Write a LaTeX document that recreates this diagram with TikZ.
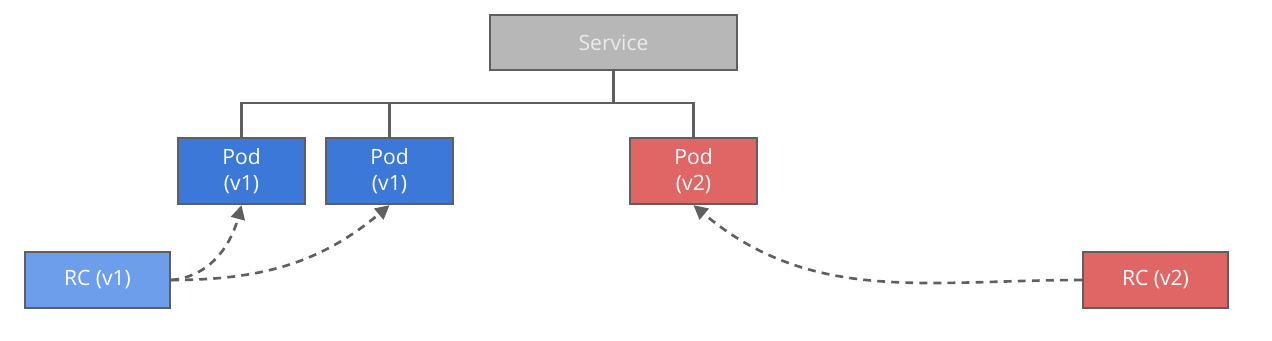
\documentclass[tikz,border=0pt]{standalone}
\usepackage{fontspec}
\setmainfont{Open Sans}
\usetikzlibrary{arrows.meta,positioning}
\definecolor{ink}{HTML}{5F5F5F}
\definecolor{svcgrey}{HTML}{B7B7B7}
\definecolor{podblue}{HTML}{3C78D8}
\definecolor{rcblue}{HTML}{6D9EEB}
\definecolor{v2red}{HTML}{E06666}
\tikzset{
  >={Triangle[length=8pt,width=8pt]},
  every node/.style={font=\fontsize{12}{14.5}\selectfont,text=white},
  box/.style={draw=ink,line width=1.3pt,fill=svcgrey,align=center,inner sep=2pt},
  svcbox/.style={box,minimum width=49.4mm,minimum height=11mm,text=white!92!black},
  podbox/.style={box,fill=podblue,minimum width=25.4mm,minimum height=13.2mm},
  podtwobox/.style={podbox,fill=v2red},
  rcbox/.style={box,fill=rcblue,minimum width=29mm,minimum height=11.2mm},
  rctwobox/.style={rcbox,fill=v2red},
  wire/.style={draw=ink,line width=1.3pt},
  ctrl/.style={->,draw=ink,line width=1.5pt,dash pattern=on 4.5pt off 3.5pt},
}

\begin{document}
\begin{tikzpicture}
\useasboundingbox (0,0) rectangle (25.44,-6.8);

\node[svcbox] (svc) at (12.27,-0.85) {Service};
\node[podbox] (pod1) at (4.83,-3.42) {Pod\\(v1)};
\node[podbox] (pod2) at (7.79,-3.42) {Pod\\(v1)};
\node[podtwobox] (pod3) at (13.87,-3.42) {Pod\\(v2)};
\node[rcbox] (rc1) at (1.95,-5.60) {RC (v1)};
\node[rctwobox] (rc2) at (23.11,-5.60) {RC (v2)};

% service fan-out
\coordinate (bus) at (0,-2.06);
\draw[wire] (pod1.north) |- (pod3.north |- bus) -- (pod3.north);
\draw[wire] (svc.south) -- (svc.south |- bus);
\draw[wire] (pod2.north) -- (pod2.north |- bus);

% controllers
\draw[ctrl] (rc1.east) to[out=5,in=-105] (pod1.south);
\draw[ctrl] (rc1.east) to[out=0,in=-140] (pod2.south);
\draw[ctrl] (rc2.west) to[out=180,in=-40] (pod3.south);

\end{tikzpicture}
\end{document}
